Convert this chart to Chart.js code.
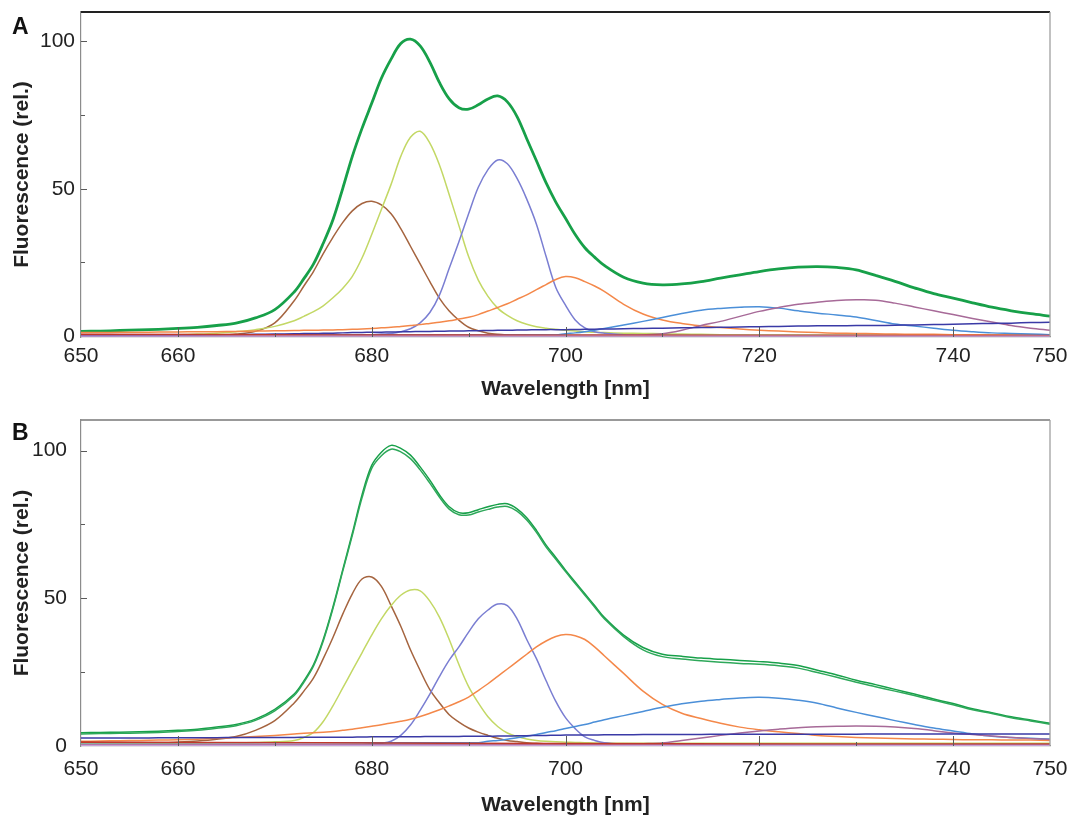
<!DOCTYPE html>
<html><head><meta charset="utf-8">
<script src="https://cdn.jsdelivr.net/npm/chart.js@4.4.1/dist/chart.umd.min.js"></script>
<style>
html,body{margin:0;padding:0;background:#fff;}
#wrap{position:relative;width:1068px;height:818px;overflow:hidden;}
.panel{position:absolute;left:0;width:1068px;height:409px;}
#pA{top:0}
#pB{top:409px}
.lbl{position:absolute;left:12px;font:bold 23px "Liberation Sans",Arial,sans-serif;color:#111;line-height:1;}
</style></head><body>
<div id="wrap">
<div class="panel" id="pA"><canvas id="cA" width="1068" height="409"></canvas></div>
<div class="panel" id="pB"><canvas id="cB" width="1068" height="409"></canvas></div>
<div class="lbl" style="top:15px">A</div>
<div class="lbl" style="top:421px">B</div>
</div>
<script>
// ---- data ----
const wavelengths = [650,652,654,656,658,660,662,664,666,668,670,672,
  673,674,675,676,677,678,679,680,681,682,683,684,685,686,687,688,689,690,691,692,693,694,695,696,697,698,699,700,701,702,703,
  704,706,708,710,712,714,716,718,720,722,724,726,728,730,732,734,736,738,740,742,744,746,748,750];
const baseWl = [650,675,700,725,750];
const xLabelTicks = [650,660,680,700,720,740,750];
const xTickMarks = [660,670,680,690,700,710,720,730,740];
const yLabelTicks = [0,50,100];
const yTickMarks = [25,50,75,100];

// Panel A
const aSum = [1.6,1.7,1.9,2.1,2.3,2.6,3.0,3.6,4.4,6.2,9.0,15,
  19.5,24.5,31.5,39.5,50,61,70.5,79,87.5,94,99.3,100.8,98.5,93,86,80.5,77.5,77,78.5,80.5,81.5,79.5,74.5,67,59.5,52,45.5,40,34.5,30,26.8,
  24,20,18,17.4,17.7,18.5,19.7,20.8,21.9,22.8,23.4,23.6,23.3,22.5,20.6,18.6,16.4,14.4,12.9,11.3,9.8,8.6,7.6,6.8];
const aBrown = [0.3,0.3,0.3,0.3,0.3,0.3,0.3,0.4,0.7,1.6,4.5,12,
  17,22,28,33.5,38.5,42.5,45,45.8,44.5,41.5,36.5,30.5,24.5,18.5,12.8,8.5,5.4,3.0,1.8,1.0,0.6,0.4,0.3,0.3,0.3,0.3,0.3,0.3,0.3,0.3,0.3,
  0.3,0.3,0.3,0.3,0.3,0.3,0.3,0.3,0.3,0.3,0.3,0.3,0.3,0.3,0.3,0.3,0.3,0.3,0.3,0.3,0.3,0.3,0.3,0.3];
const aYellow = [0.3,0.3,0.3,0.4,0.4,0.5,0.7,1.0,1.5,2.2,3.3,5.2,
  6.7,8.3,10.3,13,16.2,20.3,26.5,34.5,43,51.5,61,67.5,69.5,65.5,58,48,37.5,27,19,13.5,9.5,7.0,5.2,4.0,3.2,2.7,2.3,2.0,1.7,1.5,1.3,
  1.2,1.0,0.9,0.8,0.7,0.6,0.5,0.4,0.4,0.4,0.4,0.4,0.3,0.3,0.3,0.3,0.3,0.3,0.3,0.3,0.3,0.3,0.3,0.3];
const aSlate = [0.2,0.2,0.2,0.2,0.2,0.2,0.2,0.2,0.2,0.2,0.2,0.2,
  0.2,0.2,0.2,0.2,0.2,0.3,0.4,0.5,0.7,0.9,1.5,2.5,4.5,8,14,23,32,41.5,50.5,56.5,59.8,58.5,53.5,46.5,38,27,16.5,10.5,5.5,2.8,1.5,
  1.0,0.5,0.3,0.2,0.2,0.2,0.2,0.2,0.2,0.2,0.2,0.2,0.2,0.2,0.2,0.2,0.2,0.2,0.2,0.2,0.2,0.2,0.2,0.2];
const aOrange = [1.2,1.2,1.3,1.3,1.4,1.4,1.5,1.5,1.6,1.7,1.8,1.9,
  1.95,2.0,2.05,2.1,2.2,2.3,2.45,2.6,2.8,3.0,3.3,3.6,3.9,4.3,4.7,5.2,5.8,6.4,7.3,8.5,9.7,11,12.5,14,15.8,17.5,19.2,20.2,19.8,18.5,17,
  15.2,10.8,7.5,5.5,4.3,3.5,2.9,2.4,2.0,1.7,1.4,1.2,1.0,0.9,0.8,0.7,0.6,0.6,0.5,0.5,0.4,0.4,0.4,0.4];
const aLightBlue = [0.4,0.4,0.4,0.4,0.4,0.4,0.4,0.4,0.4,0.4,0.4,0.4,
  0.4,0.4,0.4,0.4,0.4,0.4,0.4,0.4,0.4,0.4,0.4,0.4,0.4,0.4,0.4,0.4,0.4,0.4,0.4,0.4,0.4,0.4,0.4,0.4,0.4,0.4,0.4,0.8,1.1,1.5,2.0,
  2.6,3.8,5.0,6.3,7.7,8.8,9.4,9.8,10.0,9.5,8.6,7.8,7.2,6.5,5.3,4.1,3.4,2.7,2.0,1.5,1.1,0.9,0.7,0.5];
const aMauve = [0.2,0.2,0.2,0.2,0.2,0.2,0.2,0.2,0.2,0.2,0.2,0.2,
  0.2,0.2,0.2,0.2,0.2,0.2,0.2,0.2,0.2,0.2,0.2,0.2,0.2,0.2,0.2,0.2,0.2,0.2,0.2,0.2,0.2,0.2,0.2,0.2,0.2,0.2,0.2,0.2,0.2,0.2,0.2,
  0.2,0.3,0.4,0.8,2.0,3.6,5.0,6.7,8.4,9.7,10.8,11.5,12.1,12.3,12.2,11.2,9.9,8.6,7.3,6.0,4.8,3.6,2.7,2.0];
const aNavy = [0.1,0.1,0.2,0.2,0.2,0.3,0.3,0.4,0.5,0.6,0.7,0.8,
  0.85,0.9,0.95,1.0,1.1,1.2,1.25,1.3,1.35,1.4,1.45,1.5,1.55,1.6,1.65,1.7,1.75,1.8,1.85,1.9,1.95,2.0,2.05,2.1,2.15,2.2,2.2,2.2,2.25,2.3,2.35,
  2.4,2.5,2.6,2.7,2.8,2.9,3.0,3.1,3.2,3.3,3.4,3.5,3.5,3.6,3.6,3.7,3.8,3.9,4.0,4.2,4.3,4.4,4.6,4.7];
const aRed  = [0.6,0.4,0.3,0.2,0.2];
const aPink = [0.0,0.0,0.0,0.0,0.0];

// Panel B
const bSum1 = [4.4,4.5,4.6,4.7,4.9,5.2,5.6,6.3,7.2,9.0,12.3,17.5,
  22,27.5,36,47,59.5,72,85,95,99.5,101.8,100.8,98.5,94.5,90,85,81,79,79,80,81,81.8,82,80.3,77.3,73,68,63.8,59.5,55.5,51.5,47.5,
  43.5,37.5,33.3,31,30.3,29.7,29.3,28.9,28.5,28.0,27.2,25.6,24.0,22.2,20.7,19.1,17.5,15.8,14.3,12.5,11.2,9.8,8.7,7.6];
const bSum2 = [4.0,4.1,4.2,4.3,4.5,4.8,5.2,5.9,6.8,8.6,11.8,17,
  21.5,27,35.5,46.5,59,71.3,84,94,98.3,100.5,99.6,97.3,93.5,89,84.2,80.2,78.3,78.2,79.2,80.1,80.9,81.1,79.5,76.5,72.3,67.3,63.2,59,55,51,47,
  43,37,32.5,30.2,29.4,28.8,28.3,27.9,27.6,27.1,26.3,24.8,23.2,21.5,20.0,18.5,17.0,15.4,13.9,12.2,10.9,9.5,8.4,7.3];
const bBrown = [0.5,0.5,0.6,0.7,0.9,1.2,1.6,2.2,3.1,5.2,8.5,14.5,
  18.5,23,29.5,36.7,44.5,51.5,56.5,57.2,54,47.5,40.5,32.5,25.5,19,14.5,10.5,8.0,6.0,4.6,3.5,2.5,1.8,1.4,1.0,0.8,0.6,0.5,0.4,0.4,0.4,0.4,
  0.4,0.4,0.4,0.4,0.4,0.4,0.4,0.4,0.4,0.4,0.4,0.4,0.4,0.4,0.4,0.4,0.4,0.4,0.4,0.4,0.4,0.4,0.4,0.4];
const bYellow = [0.8,0.8,0.8,0.8,0.8,0.9,0.9,1.0,1.0,1.1,1.3,1.8,
  2.8,4.5,8.2,13.5,19.5,25.5,31.5,37.5,43,47.5,51,52.8,52.5,49,43.5,36,27.5,20,14.5,9.8,6.5,4.3,3.1,2.3,1.8,1.5,1.3,1.2,1.1,1.0,0.9,
  0.9,0.8,0.8,0.8,0.8,0.8,0.8,0.8,0.8,0.8,0.8,0.8,0.8,0.8,0.8,0.8,0.8,0.8,0.8,0.8,0.8,0.8,0.8,0.8];
const bSlate = [0.3,0.3,0.3,0.3,0.3,0.3,0.3,0.3,0.3,0.3,0.3,0.3,
  0.3,0.3,0.3,0.3,0.3,0.3,0.3,0.5,0.8,1.5,3.5,7.0,12,17.5,23.5,29,33.5,38.5,43,46,48,47.5,43,36,29.5,22,15,9.5,5.8,3.0,1.8,
  1.0,0.5,0.3,0.3,0.3,0.3,0.3,0.3,0.3,0.3,0.3,0.3,0.3,0.3,0.3,0.3,0.3,0.3,0.3,0.3,0.3,0.3,0.3,0.3];
const bOrange = [1.5,1.6,1.7,1.8,1.9,2.0,2.2,2.5,2.8,3.1,3.5,4.0,
  4.2,4.4,4.6,4.8,5.2,5.6,6.1,6.6,7.1,7.7,8.3,9.0,9.9,11,12.2,13.5,14.9,16.5,18.7,21,23.5,26,28.5,31,33.5,35.5,37,37.7,37.3,36,33.5,
  30.5,24.5,18.5,14,11,9.2,7.6,6.3,5.4,4.7,4.1,3.5,3.1,2.8,2.6,2.4,2.3,2.2,2.1,2.0,2.0,1.9,1.9,1.8];
const bLightBlue = [1.0,1.0,1.0,1.0,1.0,1.0,1.0,1.0,1.0,1.0,1.0,1.0,
  1.0,1.0,1.0,1.0,1.0,1.0,1.0,1.0,1.0,1.0,1.0,1.0,1.0,1.0,1.0,1.0,1.0,1.0,1.0,1.5,1.8,2.2,2.7,3.2,3.8,4.5,5.1,5.8,6.5,7.2,8.0,
  8.8,10.2,11.6,13,14.2,15.1,15.7,16.2,16.4,16.1,15.4,14.4,12.8,11.3,9.9,8.5,7.2,6.0,5.0,4.0,3.2,2.8,2.5,2.3];
const bMauve = [0.3,0.3,0.3,0.3,0.3,0.3,0.3,0.3,0.3,0.3,0.3,0.3,
  0.3,0.3,0.3,0.3,0.3,0.3,0.3,0.3,0.3,0.3,0.3,0.3,0.3,0.3,0.3,0.3,0.3,0.3,0.3,0.3,0.3,0.3,0.3,0.3,0.3,0.3,0.3,0.4,0.4,0.4,0.45,
  0.5,0.6,0.7,0.9,1.8,2.6,3.5,4.3,5.0,5.6,6.1,6.4,6.6,6.7,6.6,6.3,5.8,5.1,4.3,3.8,3.3,2.8,2.4,2.1];
const bNavy = [2.6,2.6,2.6,2.6,2.7,2.7,2.7,2.7,2.8,2.8,2.8,2.8,
  2.85,2.9,2.9,2.9,2.9,2.9,2.95,3.0,3.0,3.0,3.0,3.0,3.05,3.1,3.1,3.1,3.15,3.2,3.2,3.2,3.25,3.3,3.35,3.4,3.45,3.5,3.55,3.6,3.6,3.6,3.65,
  3.7,3.7,3.8,3.8,3.8,3.8,3.9,3.9,3.9,3.9,3.9,3.9,3.9,3.9,4.0,4.0,4.0,4.0,4.0,4.0,4.0,4.0,4.0,4.0];
const bRed  = [1.2,1.0,0.7,0.6,0.6];
const bPink = [0.1,0.1,0.1,0.1,0.1];

// ---- styles ----
const C = {
  green:'#17a049', green2:'#2ea85a', brown:'#a5643f', yellow:'#c3d865', slate:'#7a7ed2',
  orange:'#f4884a', light:'#4b8fd8', mauve:'#a76a98', navy:'#3a3aa6', red:'#c0392b', pink:'#c8a0d8'
};
const FONT = '"Liberation Sans", Arial, Helvetica, sans-serif';

function pts(arr, xs){ xs = xs || wavelengths; return arr.map((v,i)=>({x: xs[i], y: v})); }
function ds(arr, color, w, xs){ return {data: pts(arr, xs), borderColor: color, borderWidth: w, pointRadius: 0, fill: false, tension: 0.35, clip: 2}; }

const framePlugin = {
  id: 'frame',
  afterDatasetsDraw(chart, args, o) {
    const {ctx, chartArea: a, scales: {x, y}} = chart;
    ctx.save();
    ctx.strokeStyle = o.topColor; ctx.lineWidth = o.topWidth;
    ctx.beginPath(); ctx.moveTo(a.left, a.top); ctx.lineTo(a.right, a.top); ctx.stroke();
    ctx.strokeStyle = '#a0a0a0'; ctx.lineWidth = 1.3;
    ctx.beginPath(); ctx.moveTo(a.right, a.top); ctx.lineTo(a.right, a.bottom); ctx.stroke();
    ctx.strokeStyle = '#5a5a5a'; ctx.lineWidth = 1;
    xTickMarks.forEach(v => {
      const px = Math.round(x.getPixelForValue(v)) + 0.5;
      const len = xLabelTicks.includes(v) ? 10 : 4;
      ctx.beginPath(); ctx.moveTo(px, a.bottom); ctx.lineTo(px, a.bottom - len); ctx.stroke();
    });
    yTickMarks.forEach(v => {
      const py = Math.round(y.getPixelForValue(v)) + 0.5;
      const len = yLabelTicks.includes(v) ? 6 : 4;
      ctx.beginPath(); ctx.moveTo(a.left, py); ctx.lineTo(a.left + len, py); ctx.stroke();
    });
    ctx.restore();
  }
};

function makeChart(id, datasets, cfg) {
  return new Chart(document.getElementById(id), {
    type: 'line',
    data: { datasets },
    plugins: [framePlugin],
    options: {
      responsive: false, animation: false, devicePixelRatio: 1,
      layout: { padding: { top: cfg.padTop, right: 18, left: 0, bottom: 0 } },
      plugins: { legend: {display: false}, tooltip: {enabled: false},
                 frame: { topColor: cfg.topColor, topWidth: cfg.topWidth } },
      scales: {
        x: {
          type: 'linear', min: 650, max: 750,
          afterBuildTicks: s => { s.ticks = xLabelTicks.map(v => ({value: v})); },
          afterFit: s => { s.height = cfg.xHeight; s.paddingLeft = 0; s.paddingRight = 0; },
          grid: { display: false, drawTicks: false },
          border: { display: true, color: '#8c8c8c', width: 1.2 },
          ticks: { font: {family: FONT, size: 21}, color: '#222', padding: cfg.xPad, maxRotation: 0, autoSkip: false, callback: v => String(v) },
          title: { display: true, text: 'Wavelength [nm]', color: '#222', font: {family: FONT, size: 21, weight: 'bold'}, padding: {top: 0, bottom: cfg.xTitlePad} }
        },
        y: {
          type: 'linear', min: cfg.yMin, max: cfg.yMax,
          afterBuildTicks: s => { s.ticks = yLabelTicks.map(v => ({value: v})); },
          afterFit: s => { s.width = 81; s.paddingTop = 0; s.paddingBottom = 0; },
          grid: { display: false, drawTicks: false },
          border: { display: true, color: '#8c8c8c', width: 1.2 },
          ticks: { font: {family: FONT, size: 21}, color: '#222', padding: cfg.yPad, callback: v => String(v) },
          title: { display: true, text: 'Fluorescence (rel.)', color: '#222', font: {family: FONT, size: 21, weight: 'bold'}, padding: {top: 10, bottom: 0} }
        }
      }
    }
  });
}

makeChart('cA', [
  ds(aPink, C.pink, 1.4, baseWl), ds(aRed, C.red, 1.6, baseWl), ds(aNavy, C.navy, 1.5),
  ds(aMauve, C.mauve, 1.5), ds(aLightBlue, C.light, 1.5), ds(aOrange, C.orange, 1.5),
  ds(aSlate, C.slate, 1.5), ds(aYellow, C.yellow, 1.5), ds(aBrown, C.brown, 1.5),
  ds(aSum, C.green, 2.8)
], {padTop: 12, xHeight: 72, xPad: 7, xTitlePad: 7, yMin: -0.3, yMax: 110, yPad: 6, topColor: '#222', topWidth: 1.8});

makeChart('cB', [
  ds(bPink, C.pink, 1.4, baseWl), ds(bRed, C.red, 1.6, baseWl), ds(bNavy, C.navy, 1.5),
  ds(bMauve, C.mauve, 1.5), ds(bLightBlue, C.light, 1.5), ds(bOrange, C.orange, 1.5),
  ds(bSlate, C.slate, 1.5), ds(bYellow, C.yellow, 1.5), ds(bBrown, C.brown, 1.5),
  ds(bSum2, C.green2, 1.5), ds(bSum1, C.green, 1.5)
], {padTop: 11, xHeight: 72, xPad: 11, xTitlePad: 0, yMin: -0.1, yMax: 110.4, yPad: 14, topColor: '#777', topWidth: 1.6});
</script>
</body></html>
